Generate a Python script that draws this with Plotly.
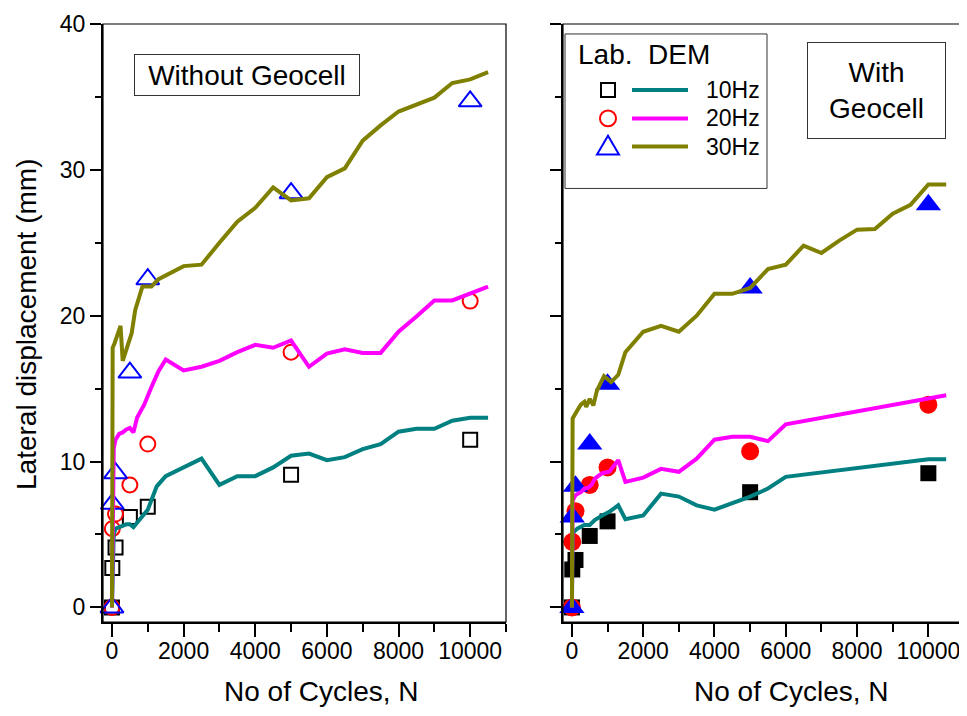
import plotly.graph_objects as go

# ---------------- data ----------------
lab_x = [0, 10, 100, 500, 1000, 5000, 10000]

# Without geocell (left panel) - lab
lab_wo_10 = [0, 2.7, 4.1, 6.2, 6.9, 9.1, 11.5]
lab_wo_20 = [0, 5.4, 6.4, 8.4, 11.2, 17.5, 21.0]
lab_wo_30 = [0, 7.1, 9.2, 16.1, 22.5, 28.4, 34.7]

# With geocell (right panel) - lab
lab_w_10 = [0, 2.6, 3.25, 4.9, 5.9, 7.9, 9.2]
lab_w_20 = [0, 4.5, 6.6, 8.4, 9.6, 10.7, 13.9]
lab_w_30 = [0, 6.2, 8.3, 11.2, 15.3, 21.9, 27.6]

# Without geocell - DEM
dem_wo_10_x = [0, 50, 100, 200, 300, 400, 500, 600, 700, 1000, 1250, 1500, 2500, 3000,
               3500, 4000, 4500, 5000, 5500, 6000, 6500, 7000, 7500, 8000, 8500, 9000,
               9500, 10000, 10500]
dem_wo_10_y = [0, 5.0, 5.4, 5.5, 5.6, 5.7, 5.7, 5.5, 5.8, 6.7, 8.3, 9.0, 10.2, 8.4,
               9.0, 9.0, 9.6, 10.4, 10.55, 10.1, 10.3, 10.85, 11.2, 12.05, 12.25, 12.25,
               12.8, 13.0, 13.0]
dem_wo_20_x = [0, 50, 100, 200, 300, 400, 500, 600, 700, 900, 1100, 1300, 1500, 2000,
               2500, 3000, 3500, 4000, 4500, 5000, 5500, 6000, 6500, 7000, 7500, 8000,
               8500, 9000, 9500, 10000, 10500]
dem_wo_20_y = [0, 10.9, 11.5, 11.9, 12.0, 12.2, 12.3, 12.0, 13.0, 13.9, 15.1, 16.2, 17.0,
               16.25, 16.5, 16.9, 17.5, 18.0, 17.8, 18.3, 16.5, 17.4, 17.7, 17.45, 17.45,
               18.9, 19.95, 21.05, 21.05, 21.5, 22.0]
dem_wo_30_x = [0, 20, 70, 150, 240, 300, 400, 550, 650, 850, 1100, 1300, 2000, 2500,
               3000, 3500, 4000, 4500, 5000, 5500, 6000, 6500, 7000, 7500, 8000, 8500,
               9000, 9500, 10000, 10500]
dem_wo_30_y = [0, 17.8, 18.1, 18.7, 19.3, 16.9, 17.7, 18.8, 20.4, 22.0, 22.0, 22.5, 23.4,
               23.5, 25.0, 26.45, 27.4, 28.8, 27.9, 28.05, 29.5, 30.1, 32.0, 33.05, 34.0,
               34.5, 34.95, 35.95, 36.2, 36.7]

# With geocell - DEM
dem_w_10_x = [0, 20, 150, 350, 500, 650, 850, 1050, 1300, 1500, 2000, 2500, 3000, 3500,
              4000, 4500, 5000, 5500, 6000, 10000, 10500]
dem_w_10_y = [0, 5.1, 5.4, 5.65, 5.65, 6.0, 6.3, 6.55, 7.0, 6.05, 6.3, 7.8, 7.6, 7.0,
              6.7, 7.15, 7.6, 8.15, 8.95, 10.15, 10.15]
dem_w_20_x = [0, 20, 100, 250, 350, 450, 550, 650, 850, 1050, 1300, 1500, 2000, 2500,
              3000, 3500, 4000, 4500, 5000, 5500, 6000, 10500]
dem_w_20_y = [0, 7.3, 7.7, 7.9, 8.15, 8.2, 8.4, 8.85, 9.2, 9.3, 10.1, 8.6, 8.9, 9.5,
              9.3, 10.2, 11.5, 11.7, 11.7, 11.4, 12.55, 14.55]
dem_w_30_x = [0, 20, 150, 250, 350, 400, 500, 600, 700, 900, 1100, 1300, 1500, 2000,
              2500, 3000, 3500, 4000, 4500, 5000, 5500, 6000, 6500, 7000, 7500, 8000,
              8500, 9000, 9500, 10000, 10500]
dem_w_30_y = [0, 12.95, 13.5, 13.9, 14.1, 13.75, 14.3, 13.85, 14.85, 15.85, 15.45, 15.95,
              17.5, 18.9, 19.3, 18.9, 20.0, 21.5, 21.5, 21.9, 23.2, 23.5, 24.8, 24.3,
              25.15, 25.9, 25.95, 27.0, 27.6, 29.0, 29.0]

freq_labels = ["10Hz", "20Hz", "30Hz"]
x_ticks = [0, 2000, 4000, 6000, 8000, 10000]
x_tick_text = ["0", "2000", "4000", "6000", "8000", "10000"]
y_ticks = [0, 10, 20, 30, 40]
y_tick_text = ["0", "10", "20", "30", "40"]
x_title = "No of Cycles, N"
y_title = "Lateral displacement (mm)"

# ---------------- styles ----------------
TEAL, MAGENTA, OLIVE = "#008080", "#FF00FF", "#808000"
C_SQ, C_CI, C_TR = "#000000", "#FF0000", "#0000FF"
FONT = "Liberation Sans, Arial, sans-serif"

# page has an 8px body margin: figure is placed at (8, 8)
OFF = 8
W, H = 967 - OFF, 716 - OFF
PL, PR, PT, PB = 103, 964, 22, 622        # plot area in page pixels
ML, MT = PL - OFF, PT - OFF
MR, MB = W - (PR - OFF), H - (PB - OFF)
PW, PH = PR - PL, PB - PT


def px(xp):
    return (xp - PL) / PW


def py(yp):
    return (PB - yp) / PH


fig = go.Figure()

# lab markers (drawn first, lines on top)
open_specs = [(lab_wo_10, "square-open", C_SQ, 14),
              (lab_wo_20, "circle-open", C_CI, 15),
              (lab_wo_30, "triangle-up-open", C_TR, 20)]
for (vals, sym, col, sz), name in zip(open_specs, freq_labels):
    fig.add_trace(go.Scatter(x=lab_x, y=vals, mode="markers", name="Lab. " + name,
                             marker=dict(symbol=sym, size=sz, color=col,
                                         line=dict(color=col, width=2)),
                             xaxis="x", yaxis="y", cliponaxis=False))
filled_specs = [(lab_w_10, "square", C_SQ, 16),
                (lab_w_20, "circle", C_CI, 18),
                (lab_w_30, "triangle-up", C_TR, 22)]
for (vals, sym, col, sz), name in zip(filled_specs, freq_labels):
    fig.add_trace(go.Scatter(x=lab_x, y=vals, mode="markers", name="Lab. " + name,
                             marker=dict(symbol=sym, size=sz, color=col, line=dict(width=0)),
                             xaxis="x2", yaxis="y2", cliponaxis=False))

# DEM lines
for xs, ys, col, name in [(dem_wo_10_x, dem_wo_10_y, TEAL, "10Hz"),
                          (dem_wo_20_x, dem_wo_20_y, MAGENTA, "20Hz"),
                          (dem_wo_30_x, dem_wo_30_y, OLIVE, "30Hz")]:
    fig.add_trace(go.Scatter(x=xs, y=ys, mode="lines", name="DEM " + name,
                             line=dict(color=col, width=4), xaxis="x", yaxis="y"))
for xs, ys, col, name in [(dem_w_10_x, dem_w_10_y, TEAL, "10Hz"),
                          (dem_w_20_x, dem_w_20_y, MAGENTA, "20Hz"),
                          (dem_w_30_x, dem_w_30_y, OLIVE, "30Hz")]:
    fig.add_trace(go.Scatter(x=xs, y=ys, mode="lines", name="DEM " + name,
                             line=dict(color=col, width=4), xaxis="x2", yaxis="y2"))

XR = [-250, 11000]
YR = [-1, 40]
dom_l = [0, px(506)]
dom_r = [px(563), 1]


def xax(domain, anchor):
    return dict(domain=domain, anchor=anchor, range=XR, tickvals=x_ticks,
                ticktext=x_tick_text,
                ticks="outside", ticklen=13, tickwidth=2, tickcolor="black",
                showline=True, linecolor="black", linewidth=2, mirror=False,
                showgrid=False, zeroline=False, ticklabelstandoff=-6,
                tickfont=dict(size=23, color="black", family=FONT),
                minor=dict(dtick=1000, tick0=0, ticks="outside", ticklen=8,
                           tickwidth=2, tickcolor="black"))


def yax(domain, anchor, labels):
    return dict(domain=domain, anchor=anchor, range=YR, tickvals=y_ticks,
                ticktext=y_tick_text,
                ticks="outside", ticklen=11, tickwidth=2, tickcolor="black",
                showline=True, linecolor="black", linewidth=2, mirror=False,
                showgrid=False, zeroline=False, showticklabels=labels,
                tickfont=dict(size=23, color="black", family=FONT),
                minor=dict(dtick=5, tick0=0, ticks="outside", ticklen=6,
                           tickwidth=2, tickcolor="black"))


def top_ax(over, anchor):
    return dict(overlaying=over, anchor=anchor, side="top", range=XR, dtick=1000, tick0=0,
                ticks="inside", ticklen=3, tickwidth=1, tickcolor="black",
                showline=False, showticklabels=False,
                showgrid=False, zeroline=False)


def right_ax(over, anchor):
    return dict(overlaying=over, anchor=anchor, side="right", range=YR, tickvals=y_ticks,
                ticks="inside", ticklen=12, tickwidth=2, tickcolor="black",
                showline=False, showticklabels=False,
                showgrid=False, zeroline=False,
                minor=dict(dtick=5, tick0=0, ticks="inside", ticklen=7,
                           tickwidth=2, tickcolor="black"))


shapes = []
annotations = []

# thin frame (top / right edges) of each panel
for xr, yr in [("x", "y"), ("x2", "y2")]:
    shapes.append(dict(type="rect", xref=xr + " domain", yref=yr + " domain",
                       x0=0, x1=1, y0=0, y1=1, line=dict(color="black", width=1.2),
                       layer="above"))

# axis titles
for cx in (321, 791):
    annotations.append(dict(xref="paper", yref="paper", x=px(cx), y=py(692),
                            text=x_title, showarrow=False,
                            font=dict(size=28, color="black", family=FONT),
                            xanchor="center", yanchor="middle"))
annotations.append(dict(xref="paper", yref="paper", x=px(27), y=py(324),
                        text=y_title, textangle=-90, showarrow=False,
                        font=dict(size=28, color="black", family=FONT),
                        xanchor="center", yanchor="middle"))

# text boxes
annotations.append(dict(xref="paper", yref="paper", x=px(247), y=py(73),
                        text="Without Geocell", showarrow=False,
                        font=dict(size=28, color="black", family=FONT),
                        width=222, height=38, borderpad=1, bordercolor="#333333",
                        borderwidth=1, bgcolor="white", xanchor="center", yanchor="middle"))
annotations.append(dict(xref="paper", yref="paper", x=px(876.5), y=py(88.5),
                        text="With<br>Geocell", showarrow=False,
                        font=dict(size=28, color="black", family=FONT),
                        width=135, height=93, borderpad=1, bordercolor="#333333",
                        borderwidth=1, bgcolor="white", xanchor="center", yanchor="middle"))

# legend box
shapes.append(dict(type="rect", xref="paper", yref="paper", x0=px(565), x1=px(767),
                   y0=py(187), y1=py(32), line=dict(color="#333333", width=1),
                   fillcolor="white", layer="above"))
annotations.append(dict(xref="paper", yref="paper", x=px(576), y=py(53),
                        text="Lab.\u00a0 DEM", showarrow=False,
                        font=dict(size=28, color="black", family=FONT),
                        xanchor="left", yanchor="middle"))
rows = [88.3, 116.7, 145.0]
line_cols = [TEAL, MAGENTA, OLIVE]
mx = 608
for ry, lc, lab in zip(rows, line_cols, freq_labels):
    shapes.append(dict(type="line", xref="paper", yref="paper", x0=px(632), x1=px(688),
                       y0=py(ry), y1=py(ry), line=dict(color=lc, width=4), layer="above"))
    annotations.append(dict(xref="paper", yref="paper", x=px(704), y=py(ry),
                            text=lab, showarrow=False,
                            font=dict(size=23, color="black", family=FONT),
                            xanchor="left", yanchor="middle"))
# legend glyphs
shapes.append(dict(type="rect", xref="paper", yref="paper", x0=px(mx - 7), x1=px(mx + 7),
                   y0=py(rows[0] + 7), y1=py(rows[0] - 7),
                   line=dict(color=C_SQ, width=2), layer="above"))
shapes.append(dict(type="circle", xref="paper", yref="paper", x0=px(mx - 8), x1=px(mx + 8),
                   y0=py(rows[1] + 8), y1=py(rows[1] - 8),
                   line=dict(color=C_CI, width=2), layer="above"))
tx0, tx1, tx2 = px(mx - 11), px(mx + 11), px(mx)
ty0, ty1 = py(rows[2] + 8), py(rows[2] - 11)
shapes.append(dict(type="path", xref="paper", yref="paper",
                   path=f"M {tx0} {ty0} L {tx1} {ty0} L {tx2} {ty1} Z",
                   line=dict(color=C_TR, width=2), layer="above"))

fig.update_layout(
    width=W, height=H,
    margin=dict(l=ML, r=MR, t=MT, b=MB, pad=0),
    paper_bgcolor="white", plot_bgcolor="white",
    showlegend=False,
    font=dict(family=FONT, color="black"),
    xaxis=xax(dom_l, "y"),
    yaxis=yax([0, 1], "x", True),
    xaxis2=xax(dom_r, "y2"),
    yaxis2=yax([0, 1], "x2", False),
    xaxis3=top_ax("x", "y"),
    yaxis3=right_ax("y", "x"),
    xaxis4=top_ax("x2", "y2"),
    yaxis4=right_ax("y2", "x2"),
    shapes=shapes,
    annotations=annotations,
)

fig.write_html("out.html")
